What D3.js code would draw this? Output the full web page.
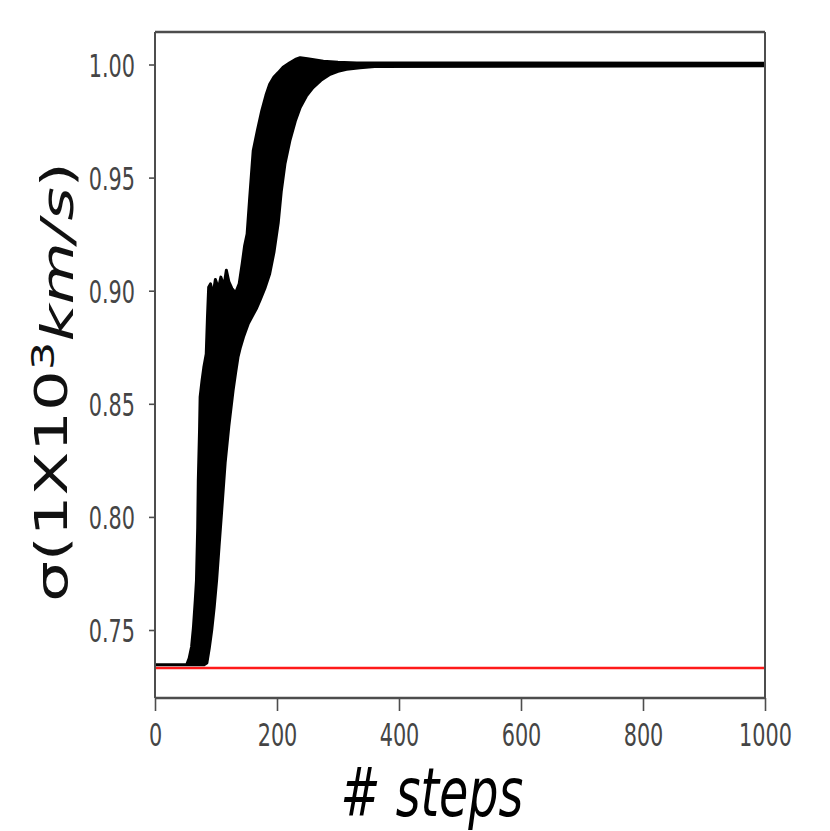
<!DOCTYPE html>
<html>
<head>
<meta charset="utf-8">
<script src="https://cdn.jsdelivr.net/npm/d3@7"></script>
<style>
  html, body { margin: 0; padding: 0; background: #fff; }
  svg { display: block; }
</style>
</head>
<body>
<div id="chart"></div>
<script>
// chart values
var xTicks = [0, 200, 400, 600, 800, 1000];
var yTicks = [0.75, 0.80, 0.85, 0.90, 0.95, 1.00];

// earliest walkers: left / upper edge of the band of traces
var upperSteps = [0, 52, 56, 60, 63, 66, 68, 70, 71, 73, 74, 77, 80, 84, 86, 88, 91, 95, 99, 104,
  108, 113, 117, 121, 126, 132, 138, 143, 147, 151, 155, 161, 168, 175, 182, 188, 195, 202,
  210, 221, 230, 238, 250, 276, 300, 331, 1000];
var upperVals = [0.7346, 0.7346, 0.7375, 0.7426, 0.751, 0.763, 0.772, 0.795, 0.8162, 0.838, 0.853,
  0.860, 0.866, 0.872, 0.888, 0.9015, 0.903, 0.898, 0.905, 0.901, 0.906, 0.902, 0.909, 0.904,
  0.901, 0.899, 0.903, 0.912, 0.920, 0.925, 0.940, 0.9618, 0.971, 0.9795, 0.9865, 0.9913,
  0.9945, 0.9964, 0.9988, 1.0008, 1.0022, 1.003, 1.0025, 1.0014, 1.0010, 1.0007, 1.0006];

// latest walkers: right / lower edge of the band
var lowerSteps = [0, 80, 85, 89, 93, 97, 101, 105, 109, 115, 121, 128, 132, 136, 140, 145, 153,
  160, 166, 172, 180, 188, 195, 202, 207, 213, 221, 230, 238, 248, 259, 272, 287, 300, 314,
  336, 360, 1000];
var lowerVals = [0.7346, 0.7346, 0.7354, 0.742, 0.750, 0.760, 0.772, 0.787, 0.8016, 0.824, 0.840,
  0.856, 0.8635, 0.8706, 0.875, 0.8795, 0.8855, 0.889, 0.892, 0.8957, 0.901, 0.9075, 0.917,
  0.930, 0.944, 0.956, 0.9662, 0.975, 0.981, 0.986, 0.9898, 0.993, 0.9957, 0.997, 0.9979,
  0.9986, 0.9991, 0.9994];

// true value (red line)
var trueSigma = 0.7332;

var width = 830,
    height = 831,
    padL = 155, padR = 765, padT = 32, padB = 698;

var svg = d3.select("#chart").append("svg")
    .attr("width", width)
    .attr("height", height);

var x = d3.scaleLinear().domain([0, 1000]).range([padL, padR]);
var y = d3.scaleLinear().domain([0.71994, 1.01437]).range([padB, padT]);

var defs = svg.append("defs");
defs.append("filter").attr("id", "soft")
    .append("feGaussianBlur").attr("stdDeviation", 0.6);
defs.append("clipPath").attr("id", "plotClip")
    .append("rect")
    .attr("x", padL).attr("y", padT)
    .attr("width", padR - padL).attr("height", padB - padT);

var plot = svg.append("g").attr("clip-path", "url(#plotClip)");

// red reference line
plot.append("line")
    .attr("x1", x(0)).attr("x2", x(1000))
    .attr("y1", y(trueSigma)).attr("y2", y(trueSigma))
    .attr("stroke", "#ff1a1a")
    .attr("stroke-width", 2.5);

// band of traces: upper edge forward, lower edge back
var pts = upperSteps.map(function (s, i) { return [x(s), y(upperVals[i])]; });
var back = lowerSteps.map(function (s, i) { return [x(s), y(lowerVals[i])]; }).reverse();
var line = d3.line();

plot.append("path")
    .attr("d", line(pts.concat(back)) + "Z")
    .attr("fill", "#000")
    .attr("stroke", "#000")
    .attr("stroke-width", 3)
    .attr("stroke-linejoin", "round")
    .attr("filter", "url(#soft)");

// axes
var axisColor = "#4d4d4d";
var labelColor = "#454545";

var yAxis = svg.append("g")
    .attr("transform", "translate(" + padL + ",0)")
    .call(d3.axisLeft(y).tickValues(yTicks).tickSize(6).tickFormat(d3.format(".2f")));

yAxis.select(".domain").remove();
yAxis.selectAll(".tick line").attr("stroke", axisColor).attr("stroke-width", 1.6);
yAxis.selectAll(".tick text")
    .attr("x", null).attr("dy", null)
    .attr("transform", "translate(-20,11.5) scale(0.66,1)")
    .attr("text-anchor", "end")
    .attr("fill", labelColor)
    .style("font-family", "DejaVu Sans")
    .style("font-size", "31.5px");

var xAxis = svg.append("g")
    .attr("transform", "translate(0," + padB + ")")
    .call(d3.axisBottom(x).tickValues(xTicks).tickSize(13).tickFormat(d3.format("d")));

xAxis.select(".domain").remove();
xAxis.selectAll(".tick line").attr("stroke", axisColor).attr("stroke-width", 1.6);
xAxis.selectAll(".tick text")
    .attr("y", null).attr("dy", null)
    .attr("transform", "translate(0,48) scale(0.66,1)")
    .attr("text-anchor", "middle")
    .attr("fill", labelColor)
    .style("font-family", "DejaVu Sans")
    .style("font-size", "31.5px");

// frame (picture is squeezed sideways, so horizontal lines look thicker)
var frame = svg.append("g").attr("stroke", axisColor).attr("fill", "none");
frame.append("line").attr("x1", padL).attr("x2", padR).attr("y1", padT).attr("y2", padT).attr("stroke-width", 2.6);
frame.append("line").attr("x1", padL).attr("x2", padR).attr("y1", padB).attr("y2", padB).attr("stroke-width", 2.6);
frame.append("line").attr("x1", padL).attr("x2", padL).attr("y1", padT).attr("y2", padB).attr("stroke-width", 2);
frame.append("line").attr("x1", padR).attr("x2", padR).attr("y1", padT).attr("y2", padB).attr("stroke-width", 2);

// axis titles
svg.append("text")
    .attr("transform", "translate(432,816) scale(0.7,1)")
    .attr("text-anchor", "middle")
    .attr("fill", "#000")
    .style("font-family", "DejaVu Sans")
    .style("font-style", "italic")
    .style("font-size", "68px")
    .text("# steps");

var ylab = svg.append("text")
    .attr("transform", "translate(67,382) scale(0.7,1) rotate(-90)")
    .attr("text-anchor", "middle")
    .attr("fill", "#111")
    .style("font-family", "DejaVu Sans")
    .style("font-size", "64px");
ylab.append("tspan").text("σ(1X10");
ylab.append("tspan").attr("dy", "-0.42em").style("font-size", "45px").text("3");
ylab.append("tspan").attr("dy", "0.42em").style("font-style", "italic").text("km/s");
ylab.append("tspan").text(")");
</script>
</body>
</html>
